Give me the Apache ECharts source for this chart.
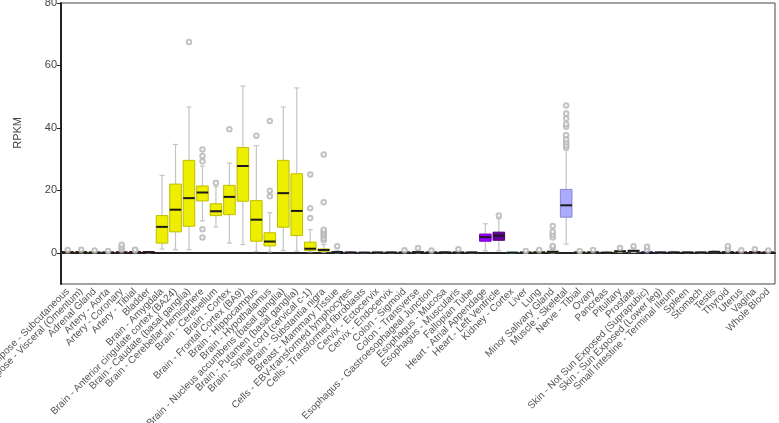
<!DOCTYPE html>
<html>
<head>
<meta charset="utf-8">
<script src="https://cdn.jsdelivr.net/npm/echarts@6/dist/echarts.min.js"></script>
<style>
html,body{margin:0;padding:0;background:#fff;}
#chart{width:779px;height:423px;}
</style>
</head>
<body>
<div id="chart"></div>
<script>
var tissues = ["Adipose - Subcutaneous","Adipose - Visceral (Omentum)","Adrenal Gland","Artery - Aorta","Artery - Coronary","Artery - Tibial","Bladder","Brain - Amygdala","Brain - Anterior cingulate cortex (BA24)","Brain - Caudate (basal ganglia)","Brain - Cerebellar Hemisphere","Brain - Cerebellum","Brain - Cortex","Brain - Frontal Cortex (BA9)","Brain - Hippocampus","Brain - Hypothalamus","Brain - Nucleus accumbens (basal ganglia)","Brain - Putamen (basal ganglia)","Brain - Spinal cord (cervical c-1)","Brain - Substantia nigra","Breast - Mammary Tissue","Cells - EBV-transformed lymphocytes","Cells - Transformed fibroblasts","Cervix - Ectocervix","Cervix - Endocervix","Colon - Sigmoid","Colon - Transverse","Esophagus - Gastroesophageal Junction","Esophagus - Mucosa","Esophagus - Muscularis","Fallopian Tube","Heart - Atrial Appendage","Heart - Left Ventricle","Kidney - Cortex","Liver","Lung","Minor Salivary Gland","Muscle - Skeletal","Nerve - Tibial","Ovary","Pancreas","Pituitary","Prostate","Skin - Not Sun Exposed (Suprapubic)","Skin - Sun Exposed (Lower leg)","Small Intestine - Terminal Ileum","Spleen","Stomach","Testis","Thyroid","Uterus","Vagina","Whole Blood"];

var whiskerLow  = [0,0,0,0,0,0,0, 1.2,1.0,1.0,10.2,8.3,3.1,2.6,0.4,0.3,0.7,0.5,0.3,0.2, 0,0,0,0,0,0,0,0,0,0,0, 0.6,0.6, 0,0,0,0, 2.8, 0,0,0,0.1,0.1,0,0,0,0,0,0.1,0,0,0,0];
var q1          = [0.1,0.1,0.05,0.05,0.1,0.1,0.1, 3.1,6.7,8.5,16.6,11.9,12.2,16.5,3.7,2.2,8.2,5.5,0.7,0.5, 0.1,0.05,0,0.05,0.05,0.05,0.1,0.05,0.05,0.05,0.05, 3.7,4.0, 0.02,0.05,0.05,0.1, 11.4, 0.05,0.05,0.02,0.3,0.3,0.05,0.05,0.05,0.05,0.05,0.2,0.05,0.05,0.1,0.05];
var median      = [0.2,0.2,0.1,0.1,0.15,0.2,0.2, 8.3,13.8,17.5,19.3,13.3,17.9,27.8,10.6,3.6,19.1,13.4,1.3,0.9, 0.2,0.1,0.05,0.1,0.1,0.1,0.2,0.1,0.1,0.1,0.1, 5.0,5.5, 0.05,0.1,0.15,0.3, 15.2, 0.1,0.15,0.05,0.5,0.6,0.1,0.1,0.1,0.1,0.1,0.3,0.15,0.1,0.2,0.1];
var q3          = [0.3,0.35,0.2,0.2,0.3,0.3,0.3, 11.9,22.0,29.6,21.4,15.7,21.6,33.7,16.7,6.4,29.6,25.3,3.4,1.2, 0.4,0.15,0.1,0.2,0.2,0.2,0.3,0.2,0.2,0.2,0.2, 6.0,6.6, 0.1,0.2,0.3,0.5, 20.3, 0.2,0.3,0.1,0.7,0.9,0.25,0.2,0.2,0.2,0.2,0.4,0.3,0.2,0.3,0.2];
var whiskerHigh = [0.6,0.7,0.4,0.4,0.6,0.5,0.4, 24.8,34.7,46.7,27.8,21.2,28.7,53.4,34.3,12.8,46.7,52.8,7.4,2.6, 0.8,0.3,0.2,0.3,0.4,0.5,0.6,0.5,0.4,0.5,0.4, 9.3,10.9, 0.2,0.4,0.6,1.0, 33.0, 0.4,0.6,0.3,1.1,1.5,0.6,0.4,0.4,0.3,0.4,0.6,0.6,0.5,0.6,0.4];
var outliers = [
  [0.9],[1.0],[0.7],[0.6],[1.0,1.8,2.6],[0.8,1.0],[],
  [],[],[67.5],[4.9,7.5,29.3,31.0,33.1],[22.4],[39.6],[],[37.5],[18.1,19.9,42.2],[],[],[11.1,14.3,25.1],[4.0,4.6,5.5,6.1,6.8,7.4,16.2,31.5],
  [2.1],[],[],[],[],[0.8],[1.5],[0.7],[],[1.1],[],
  [],[11.9],
  [],[0.6],[0.9],[1.7,2.2,4.9,5.8,6.7,8.6],
  [33.7,34.4,35.4,36.3,37.7,40.4,41.2,43.0,44.6,47.2],
  [0.6],[0.9],[],[1.5],[2.1],[1.0,1.9],[],[],[],[],[],[1.0,2.1],[0.8],[1.1],[0.7]
];
var tissueColors = ["#FF6600","#FFAA00","#33DD33","#FF5555","#FFAA99","#FF0000","#AA0000",
  "#EEEE00","#EEEE00","#EEEE00","#EEEE00","#EEEE00","#EEEE00","#EEEE00","#EEEE00","#EEEE00","#EEEE00","#EEEE00","#EEEE00","#EEEE00",
  "#33CCCC","#CC66FF","#AAEEFF","#FFCCCC","#FFCCCC","#EEBB77","#CC9955","#8B7355","#552200","#BB9988","#FFCCCC",
  "#9900FF","#660099","#22FFDD","#AABB66","#99FF00","#99BB88","#AAAAFF","#FFD700","#FFAAFF","#995522","#AAFF99","#DDDDDD",
  "#0000FF","#7777FF","#555522","#778855","#FFDD99","#AAAAAA","#006600","#FF66FF","#FF5599","#FF00BB"];
var yTicks = [0,20,40,60,80];

var boxData = tissues.map(function(t,i){ return [i, whiskerLow[i], q1[i], median[i], q3[i], whiskerHigh[i]]; });
var outlierData = [];
outliers.forEach(function(arr,i){ arr.forEach(function(v){ outlierData.push([i, v]); }); });

function darken(hex, f){
  var n = parseInt(hex.slice(1),16);
  var r = Math.round(((n>>16)&255)*f), g = Math.round(((n>>8)&255)*f), b = Math.round((n&255)*f);
  return 'rgb('+r+','+g+','+b+')';
}

var chart = echarts.init(document.getElementById('chart'), null, {renderer:'canvas'});
chart.setOption({
  animation:false,
  backgroundColor:'#fff',
  textStyle:{fontFamily:'Liberation Sans, Arial, sans-serif'},
  grid:{left:61,right:4,top:3,bottom:139,show:true,borderColor:'#444',borderWidth:1,containLabel:false,outerBoundsMode:'none'},
  xAxis:{
    type:'category', data:tissues, boundaryGap:true,
    axisLine:{lineStyle:{color:'#222',width:2}},
    axisTick:{alignWithLabel:true,length:4,lineStyle:{color:'#222',width:1.5}},
    axisLabel:{interval:0,rotate:45,fontSize:10,color:'#555',margin:6,fontFamily:'Liberation Sans, Arial, sans-serif'},
    splitLine:{show:false}
  },
  yAxis:{
    type:'value', min:-10, max:80,
    axisLine:{show:true,lineStyle:{color:'#222',width:2}},
    axisTick:{show:true,length:4,customValues:yTicks,lineStyle:{color:'#222'}},
    axisLabel:{customValues:yTicks,fontSize:11,color:'#444',margin:4,fontFamily:'Liberation Sans, Arial, sans-serif'},
    splitLine:{show:false}
  },
  graphic:[{type:'text',left:12,top:117,rotation:Math.PI/2,
    style:{text:'RPKM',fontSize:11,fill:'#444',fontFamily:'Liberation Sans, Arial, sans-serif'}}],
  series:[
    {
      type:'custom',
      data:boxData,
      encode:{x:0,y:[1,2,3,4,5]},
      z:2,
      renderItem:function(params, api){
        var i = api.value(0);
        var band = api.size([1,0])[0];
        var bw = band*0.86, cw = 5;
        var pLow = api.coord([i, api.value(1)]);
        var pQ1 = api.coord([i, api.value(2)]);
        var pMed = api.coord([i, api.value(3)]);
        var pQ3 = api.coord([i, api.value(4)]);
        var pHigh = api.coord([i, api.value(5)]);
        var x = pLow[0];
        var col = tissueColors[i];
        var wStyle = {stroke:'#c4c4c4',lineWidth:1.2};
        return {type:'group',children:[
          {type:'line',shape:{x1:x,y1:pLow[1],x2:x,y2:pQ1[1]},style:wStyle},
          {type:'line',shape:{x1:x,y1:pQ3[1],x2:x,y2:pHigh[1]},style:wStyle},
          {type:'line',shape:{x1:x-cw/2,y1:pLow[1],x2:x+cw/2,y2:pLow[1]},style:wStyle},
          {type:'line',shape:{x1:x-cw/2,y1:pHigh[1],x2:x+cw/2,y2:pHigh[1]},style:wStyle},
          {type:'rect',shape:{x:x-bw/2,y:pQ3[1],width:bw,height:Math.max(pQ1[1]-pQ3[1],0.5)},
            style:{fill:col,stroke:darken(col,0.8),lineWidth:1}},
          {type:'line',shape:{x1:x-bw/2,y1:pMed[1],x2:x+bw/2,y2:pMed[1]},style:{stroke:'#1a1a1a',lineWidth:2}}
        ]};
      }
    },
    {
      type:'scatter',
      data:outlierData,
      symbol:'emptyCircle',
      symbolSize:4.5,
      z:3,
      itemStyle:{color:'#b4b4b4',borderColor:'#b4b4b4',borderWidth:0.9}
    }
  ]
});
</script>
</body>
</html>
